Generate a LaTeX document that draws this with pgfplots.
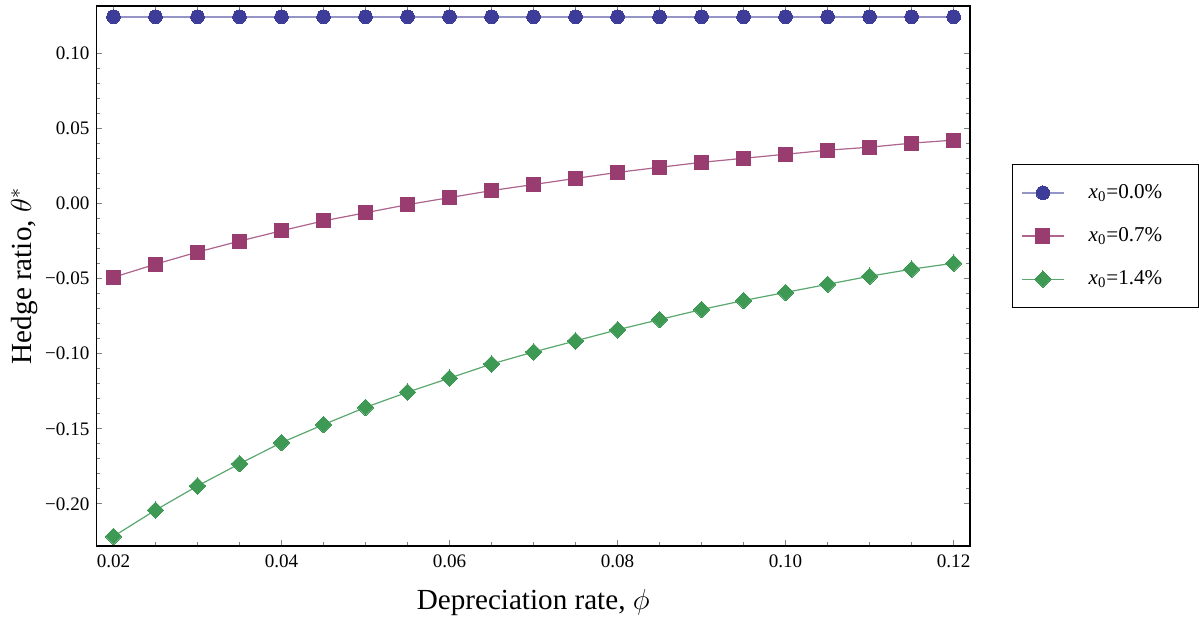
\documentclass[border=0pt]{standalone}
\usepackage{fontspec}
\setmainfont{Liberation Serif}
\usepackage{pgfplots}
\pgfplotsset{compat=1.18}

\definecolor{mblue}{rgb}{0.24,0.24,0.6}
\definecolor{mpurple}{rgb}{0.6,0.24,0.442}
\definecolor{mgreen}{rgb}{0.24,0.6,0.33}

\begin{document}
\begin{tikzpicture}
\begin{axis}[
    scale only axis,
    width=434.75pt,
    height=268.65pt,
    xmin=0.01797, xmax=0.12195,
    ymin=-0.2280, ymax=0.1318,
    xtick={0.02,0.04,0.06,0.08,0.10,0.12},
    xticklabels={0.02,0.04,0.06,0.08,0.10,0.12},
    ytick={-0.20,-0.15,-0.10,-0.05,0,0.05,0.10},
    yticklabels={−0.20,−0.15,−0.10,−0.05,0.00,0.05,0.10},
    minor x tick num=3,
    minor y tick num=4,
    major tick length=3pt,
    minor tick length=2pt,
    every minor tick/.append style={gray},
    tick style={line width=0.5pt},
    axis line style={line width=0.7pt},
    tick label style={font=\fontsize{9.5}{11}\selectfont},
    xticklabel style={yshift=-1pt},
    label style={font=\fontsize{14.5}{16}\selectfont},
    xlabel={Depreciation rate, $\phi$},
    ylabel={Hedge ratio, $\theta^{*}$},
    xlabel style={yshift=-4pt},
    ylabel style={yshift=-3pt},
    legend style={
        at={(1,0.574)}, anchor=west, xshift=20.75pt,
        draw=black, line width=0.6pt, fill=white,
        font=\fontsize{10.5}{12}\selectfont,
        inner xsep=0pt, inner ysep=8pt,
        row sep=9pt,
        nodes={inner xsep=0pt},
    },
    legend cell align=left,
    legend image code/.code={
        \path[draw=none, fill=none] (-5pt,0pt) -- (33pt,0pt);
        \draw[mark repeat=2,mark phase=2,#1] plot coordinates {(0pt,0pt)(10.25pt,0pt)(20.5pt,0pt)};
    },
]
\addplot[color=mblue!55, line width=0.9pt, mark=*, mark size=3.4pt,
    mark options={draw=mblue, fill=mblue, line width=0pt}] coordinates {
(0.020,0.1246) (0.025,0.1246) (0.030,0.1246) (0.035,0.1246) (0.040,0.1246)
(0.045,0.1246) (0.050,0.1246) (0.055,0.1246) (0.060,0.1246) (0.065,0.1246)
(0.070,0.1246) (0.075,0.1246) (0.080,0.1246) (0.085,0.1246) (0.090,0.1246)
(0.095,0.1246) (0.100,0.1246) (0.105,0.1246) (0.110,0.1246) (0.115,0.1246)
(0.120,0.1246)};
\addlegendentry{\textit{x}\textsubscript{0}=0.0\%\rule{18pt}{0pt}}

\addplot[color=mpurple!80, line width=0.6pt, mark=square*, mark size=3.5pt,
    mark options={draw=mpurple, fill=mpurple, line width=0pt}] coordinates {
(0.020,-0.0490) (0.025,-0.0403) (0.030,-0.0322) (0.035,-0.0249) (0.040,-0.0180)
(0.045,-0.0114) (0.050,-0.0060) (0.055,-0.0006) (0.060,0.0041) (0.065,0.0088)
(0.070,0.0128) (0.075,0.0169) (0.080,0.0209) (0.085,0.0243) (0.090,0.0276)
(0.095,0.0303) (0.100,0.0330) (0.105,0.0357) (0.110,0.0377) (0.115,0.0404)
(0.120,0.0424)};
\addlegendentry{\textit{x}\textsubscript{0}=0.7\%\rule{18pt}{0pt}}

\addplot[color=mgreen!85, line width=0.6pt, mark=square*, mark size=2.9pt,
    mark options={draw=mgreen, fill=mgreen, line width=0pt, rotate=45}] coordinates {
(0.020,-0.2217) (0.025,-0.2042) (0.030,-0.1881) (0.035,-0.1733) (0.040,-0.1592)
(0.045,-0.1472) (0.050,-0.1357) (0.055,-0.1256) (0.060,-0.1162) (0.065,-0.1068)
(0.070,-0.0988) (0.075,-0.0914) (0.080,-0.0840) (0.085,-0.0772) (0.090,-0.0705)
(0.095,-0.0645) (0.100,-0.0591) (0.105,-0.0537) (0.110,-0.0483) (0.115,-0.0436)
(0.120,-0.0396)};
\addlegendentry{\textit{x}\textsubscript{0}=1.4\%\rule{18pt}{0pt}}
\end{axis}
\path ([yshift=3pt]current axis.north);
\path ([xshift=-48pt]current axis.south west);
\end{tikzpicture}
\end{document}
